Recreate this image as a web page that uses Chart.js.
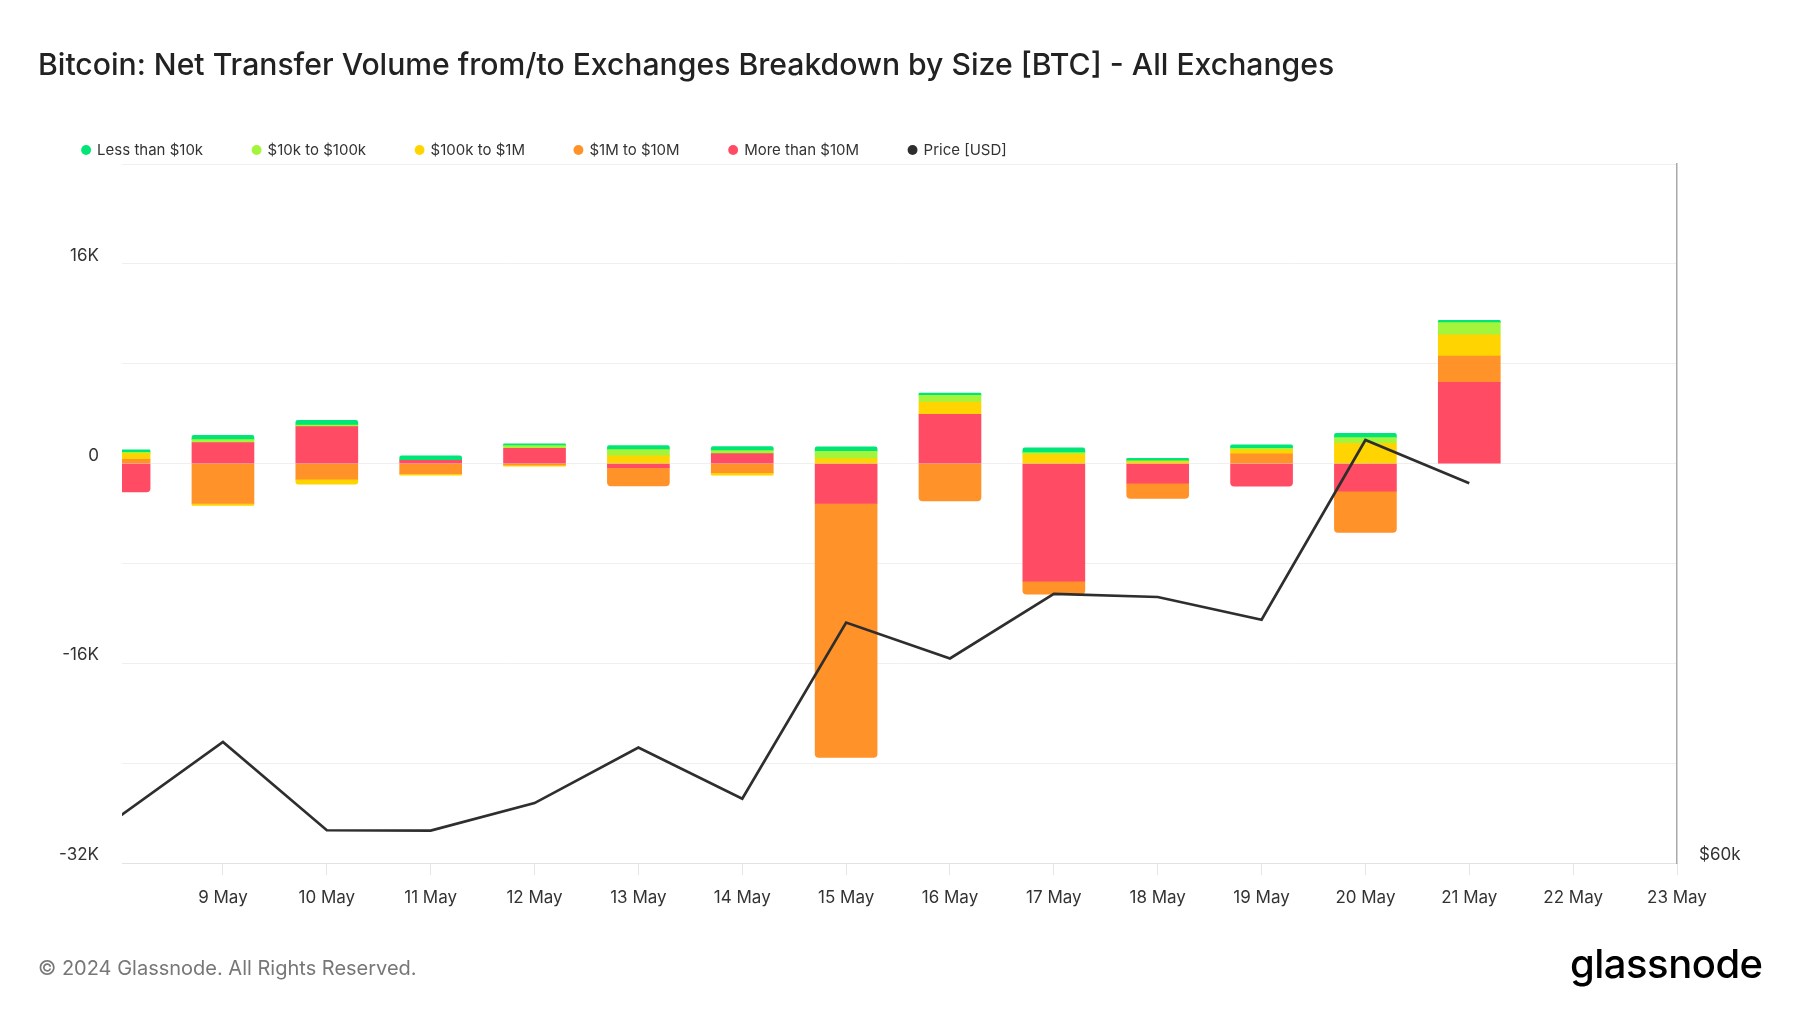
<!DOCTYPE html>
<html>
<head>
<meta charset="utf-8">
<script src="https://cdn.jsdelivr.net/npm/chart.js@4.4.1/dist/chart.umd.min.js"></script>
<style>
html,body{margin:0;padding:0;background:#fff;width:1800px;height:1013px;overflow:hidden;font-family:Inter,sans-serif;}
#c{position:absolute;left:0;top:0;}
#title{position:absolute;left:38px;top:49px;font-size:30.15px;line-height:30px;font-weight:500;color:#222;white-space:nowrap;}
#footer{position:absolute;left:38px;top:957.5px;font-size:20px;line-height:20px;color:#777;white-space:nowrap;}
#logo{position:absolute;left:1570px;top:944px;font-size:40px;line-height:40px;font-weight:500;color:#000;letter-spacing:-0.5px;white-space:nowrap;}
</style>
</head>
<body>
<canvas id="c" width="1800" height="1013"></canvas>
<div id="title">Bitcoin: Net Transfer Volume from/to Exchanges Breakdown by Size [BTC] - All Exchanges</div>
<div id="footer">© 2024 Glassnode. All Rights Reserved.</div>
<div id="logo">glassnode</div>
<script>
// Dates of the data points (8 May .. 21 May 2024)
const categories = ['8 May','9 May','10 May','11 May','12 May','13 May','14 May','15 May','16 May','17 May','18 May','19 May','20 May','21 May'];
// X tick labels
const tickLabels = ['9 May','10 May','11 May','12 May','13 May','14 May','15 May','16 May','17 May','18 May','19 May','20 May','21 May','22 May','23 May'];

// Net transfer volume by size [BTC]
const lessThan10k   = [187, 347, 373, 347, 133, 320, 320, 347, 187, 373, 213, 267, 347, 192];
const from10kTo100k = [107, 240, 133, 0, 213, 507, 240, 587, 533, 160, 53, 133, 453, 976];
const from100kTo1M  = [453, -160, -400, -133, -107, 613, -213, 400, 987, 720, 160, 320, 1627, 1704];
const from1MTo10M   = [347, -3200, -1253, -800, -107, -1467, -720, -20347, -2987, -1040, -1227, 773, -3307, 2096];
const moreThan10M   = [-2267, 1680, 2960, 267, 1227, -320, 800, -3200, 3947, -9413, -1573, -1813, -2213, 6512];
// Price [USD]
const priceUSD      = [61160, 63030, 60820, 60810, 61500, 62890, 61610, 66020, 65120, 66740, 66660, 66090, 70590, 69510];

// Axis tick values
const volumeTicks = [-32000, -24000, -16000, -8000, 0, 8000, 16000, 24000];
const priceTicks = [60000];

const toPoints = arr => arr.map((v, i) => ({x: i, y: v}));

const legendOrder = ['Less than $10k','$10k to $100k','$100k to $1M','$1M to $10M','More than $10M','Price [USD]'];

const barCommon = {type: 'bar', yAxisID: 'y', barThickness: 62, borderRadius: 4, borderWidth: 0, order: 1};

Chart.defaults.font.family = 'Inter, sans-serif';
Chart.defaults.color = '#333';

const fixLegend = {
  id: 'fixLegend',
  afterInit(chart) {
    const lg = chart.legend;
    const f = lg.fit;
    lg.fit = function() { f.call(this); this.height = 71.5; };
  }
};

new Chart(document.getElementById('c'), {
  data: {
    datasets: [
      Object.assign({label: 'More than $10M', data: toPoints(moreThan10M), backgroundColor: '#FF4B63'}, barCommon),
      Object.assign({label: '$1M to $10M', data: toPoints(from1MTo10M), backgroundColor: '#FF9228'}, barCommon),
      Object.assign({label: '$100k to $1M', data: toPoints(from100kTo1M), backgroundColor: '#FFD400'}, barCommon),
      Object.assign({label: '$10k to $100k', data: toPoints(from10kTo100k), backgroundColor: '#A2F53A'}, barCommon),
      Object.assign({label: 'Less than $10k', data: toPoints(lessThan10k), backgroundColor: '#00E676'}, barCommon),
      {type: 'line', label: 'Price [USD]', data: toPoints(priceUSD), yAxisID: 'yPrice', borderColor: '#2e2e2e', backgroundColor: '#2e2e2e', borderWidth: 2.7, pointRadius: 0, tension: 0, order: 0}
    ]
  },
  options: {
    responsive: false,
    devicePixelRatio: 1,
    animation: false,
    layout: {padding: {left: 32.6, right: 23, top: 92.5, bottom: 100}},
    plugins: {
      tooltip: {enabled: false},
      legend: {
        position: 'top',
        align: 'start',
        labels: {
          usePointStyle: true,
          pointStyle: 'circle',
          boxWidth: 7,
          boxHeight: 7,
          padding: 50,
          color: '#333',
          font: {size: 15},
          sort: (a, b) => legendOrder.indexOf(a.text) - legendOrder.indexOf(b.text),
          generateLabels(chart) {
            return Chart.defaults.plugins.legend.labels.generateLabels(chart).map(it => Object.assign(it, {lineWidth: 0, strokeStyle: 'rgba(0,0,0,0)'}));
          }
        }
      }
    },
    scales: {
      x: {
        type: 'linear',
        stacked: true,
        offset: false,
        min: 0.028,
        max: 15,
        afterBuildTicks(scale) { scale.ticks = tickLabels.map((_, i) => ({value: i + 1})); },
        afterFit(scale) { scale.height = 50; },
        ticks: {
          autoSkip: false, maxRotation: 0, padding: 13, color: '#333', font: {size: 17},
          callback: (v, i) => tickLabels[i]
        },
        grid: {offset: false, drawOnChartArea: false, drawTicks: true, tickLength: 12, color: '#e6e6e6', tickColor: '#e6e6e6'},
        border: {display: true, color: '#e2e2e2', width: 1}
      },
      y: {
        type: 'linear',
        position: 'left',
        stacked: true,
        min: -32000,
        max: 24000,
        afterBuildTicks(scale) { scale.ticks = volumeTicks.map(v => ({value: v})); },
        afterFit(scale) { scale.width = 89.4; },
        ticks: {
          padding: 23, labelOffset: -8, color: '#333', font: {size: 17},
          callback: v => (v % 16000 === 0 && v !== 24000) ? (v === 0 ? '0' : (v / 1000) + 'K') : ''
        },
        grid: {color: '#efefef', drawTicks: false, lineWidth: 1},
        border: {display: false}
      },
      yPrice: {
        type: 'linear',
        position: 'right',
        min: 60000,
        max: 77500,
        afterBuildTicks(scale) { scale.ticks = priceTicks.map(v => ({value: v})); },
        afterFit(scale) { scale.width = 100; },
        ticks: {
          padding: 22, labelOffset: -8, color: '#333', font: {size: 17},
          callback: v => '$' + (v / 1000) + 'k'
        },
        grid: {display: false, drawTicks: false},
        border: {display: true, color: '#a9a9a9', width: 1.5}
      }
    }
  },
  plugins: [fixLegend]
});
</script>
</body>
</html>
